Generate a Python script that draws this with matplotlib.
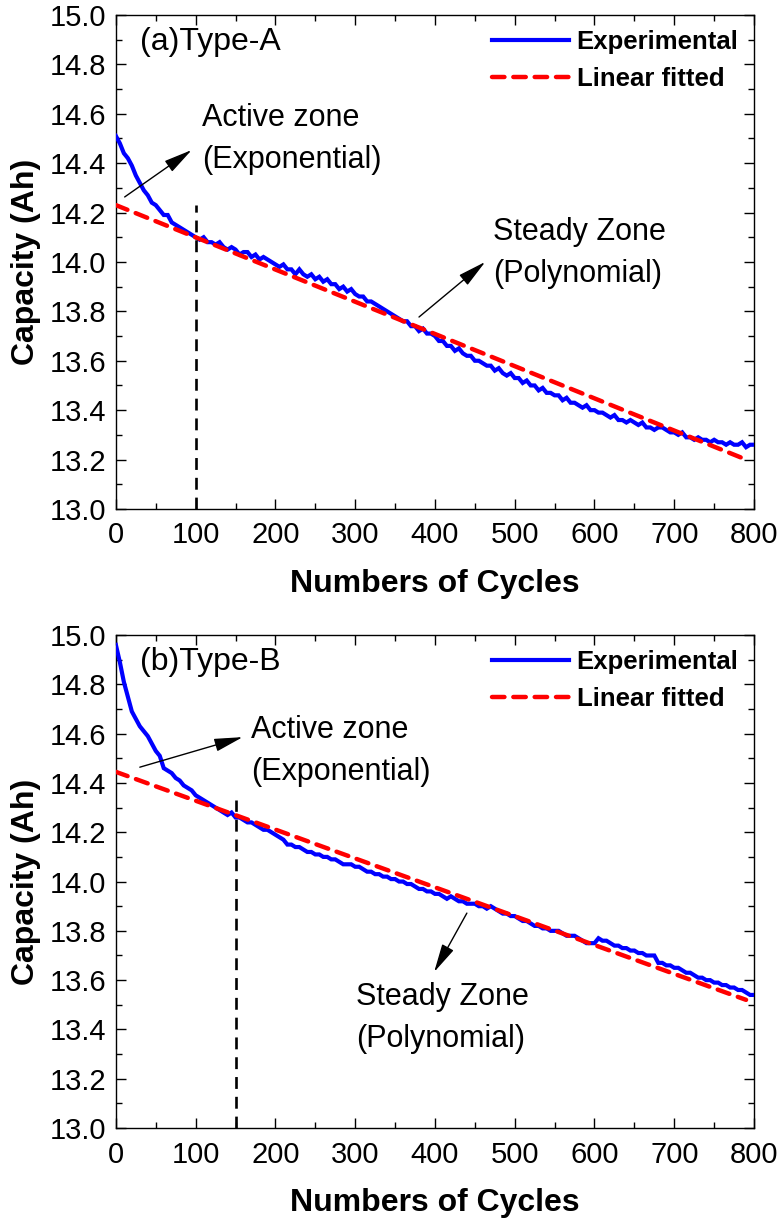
import numpy as np
import matplotlib
matplotlib.use("Agg")
import matplotlib.pyplot as plt
from matplotlib.ticker import MultipleLocator

plt.rcParams['font.family'] = ['Liberation Sans', 'DejaVu Sans']

# ---------------- data ----------------
cycles = np.arange(0, 801, 5)

cap_a = [
    14.51, 14.48, 14.44, 14.42, 14.39, 14.35, 14.32, 14.29, 14.27, 14.24,
    14.23, 14.21, 14.19, 14.19, 14.16, 14.15, 14.14, 14.13, 14.12, 14.11,
    14.10, 14.09, 14.10, 14.08, 14.08, 14.07, 14.08, 14.06, 14.05, 14.06,
    14.05, 14.03, 14.04, 14.04, 14.02, 14.03, 14.01, 14.02, 14.01, 14.00,
    13.99, 13.98, 13.99, 13.97, 13.97, 13.95, 13.97, 13.95, 13.94, 13.95,
    13.93, 13.94, 13.92, 13.93, 13.91, 13.91, 13.89, 13.90, 13.88, 13.89,
    13.87, 13.86, 13.86, 13.84, 13.84, 13.83, 13.82, 13.81, 13.80, 13.79,
    13.78, 13.77, 13.76, 13.76, 13.74, 13.74, 13.72, 13.73, 13.71, 13.71,
    13.70, 13.68, 13.68, 13.66, 13.66, 13.64, 13.65, 13.63, 13.62, 13.62,
    13.60, 13.60, 13.59, 13.58, 13.58, 13.56, 13.57, 13.55, 13.54, 13.55,
    13.53, 13.53, 13.51, 13.52, 13.50, 13.50, 13.48, 13.49, 13.47, 13.47,
    13.46, 13.46, 13.44, 13.45, 13.43, 13.43, 13.42, 13.41, 13.42, 13.40,
    13.40, 13.39, 13.39, 13.38, 13.37, 13.38, 13.36, 13.36, 13.35, 13.36,
    13.35, 13.34, 13.35, 13.33, 13.33, 13.32, 13.33, 13.33, 13.32, 13.31,
    13.31, 13.30, 13.31, 13.29, 13.29, 13.28, 13.29, 13.28, 13.28, 13.27,
    13.28, 13.27, 13.27, 13.26, 13.27, 13.26, 13.26, 13.27, 13.25, 13.26,
    13.26,
]

cap_b = [
    14.96, 14.89, 14.81, 14.75, 14.69, 14.66, 14.63, 14.61, 14.59, 14.56,
    14.53, 14.51, 14.46, 14.45, 14.44, 14.42, 14.41, 14.39, 14.38, 14.37,
    14.35, 14.34, 14.33, 14.32, 14.31, 14.30, 14.29, 14.28, 14.27, 14.28,
    14.26, 14.26, 14.25, 14.24, 14.24, 14.23, 14.22, 14.21, 14.21, 14.20,
    14.19, 14.18, 14.17, 14.15, 14.15, 14.14, 14.14, 14.13, 14.12, 14.12,
    14.11, 14.11, 14.10, 14.10, 14.09, 14.09, 14.08, 14.07, 14.07, 14.07,
    14.06, 14.06, 14.05, 14.04, 14.04, 14.03, 14.03, 14.02, 14.02, 14.01,
    14.01, 14.00, 14.00, 13.99, 13.99, 13.98, 13.97, 13.97, 13.96, 13.96,
    13.95, 13.95, 13.94, 13.93, 13.94, 13.93, 13.92, 13.92, 13.91, 13.91,
    13.91, 13.90, 13.90, 13.89, 13.90, 13.89, 13.88, 13.87, 13.87, 13.86,
    13.86, 13.85, 13.84, 13.84, 13.83, 13.82, 13.82, 13.81, 13.81, 13.80,
    13.80, 13.80, 13.79, 13.78, 13.78, 13.78, 13.77, 13.76, 13.75, 13.75,
    13.75, 13.77, 13.76, 13.76, 13.75, 13.74, 13.74, 13.73, 13.73, 13.72,
    13.72, 13.71, 13.71, 13.70, 13.70, 13.70, 13.67, 13.67, 13.66, 13.66,
    13.65, 13.65, 13.64, 13.63, 13.63, 13.62, 13.61, 13.61, 13.60, 13.60,
    13.59, 13.59, 13.58, 13.58, 13.57, 13.57, 13.56, 13.56, 13.55, 13.54,
    13.54,
]

fit_x = [0, 790]
fit_a = [14.23, 13.20]
fit_b = [14.445, 13.52]

boundary_a = 100
boundary_b = 151
boundary_top_a = 14.23
boundary_top_b = 14.33

panels = [
    dict(cap=cap_a, fit=fit_a, bx=boundary_a, btop=boundary_top_a, title='(a)Type-A',
         active_txt=(108, 14.583), active_tail=(11, 14.263), active_head=(95, 14.453),
         steady_txt=(473, 14.121), steady_tail=(380, 13.777), steady_head=(463, 14.0)),
    dict(cap=cap_b, fit=fit_b, bx=boundary_b, btop=boundary_top_b, title='(b)Type-B',
         active_txt=(170, 14.615), active_tail=(30, 14.464), active_head=(159, 14.586),
         steady_txt=(301, 13.531), steady_tail=(440, 13.872), steady_head=(399, 13.633)),
]

fig = plt.figure(figsize=(7.83, 12.22), dpi=100)
axes = [fig.add_axes([0.148, 0.5835, 0.815, 0.4043]),
        fig.add_axes([0.148, 0.0769, 0.815, 0.4034])]

for ax, p in zip(axes, panels):
    ax.plot(cycles, p['cap'], color='#0000ff', lw=3.0, label='Experimental', zorder=3,
            solid_joinstyle='miter')
    ax.plot(fit_x, p['fit'], color='#ff0000', lw=3.2, ls=(0, (2.8, 2.0)),
            dash_capstyle='round', label='Linear fitted', zorder=4)
    ax.plot([p['bx'], p['bx']], [13.0, p['btop']], color='black', lw=1.9,
            ls=(0, (4.5, 3)), zorder=5)

    ax.set_xlim(0, 800)
    ax.set_ylim(13.0, 15.0)
    ax.xaxis.set_major_locator(MultipleLocator(100))
    ax.xaxis.set_minor_locator(MultipleLocator(50))
    ax.yaxis.set_major_locator(MultipleLocator(0.2))
    ax.yaxis.set_minor_locator(MultipleLocator(0.1))
    ax.yaxis.set_major_formatter(matplotlib.ticker.FormatStrFormatter('%.1f'))
    ax.tick_params(which='both', direction='in', top=True, right=True, width=1.0,
                   labelsize=21)
    ax.tick_params(axis='x', which='major', length=7.5, pad=9)
    ax.tick_params(axis='y', which='major', length=7.5, pad=7)
    ax.tick_params(which='minor', length=4)
    for s in ax.spines.values():
        s.set_linewidth(1.0)

    ax.set_xlabel('Numbers of Cycles', fontsize=23, fontweight='bold', labelpad=14)
    ax.set_ylabel('Capacity (Ah)', fontsize=23, fontweight='bold', labelpad=6)

    ax.text(0.038, 0.945, p['title'], transform=ax.transAxes, fontsize=23,
            va='center', ha='left')

    arrow_style = dict(arrowstyle='-|>,head_length=1.1,head_width=0.25',
                       color='black', lw=1.0, mutation_scale=16, shrinkA=0, shrinkB=0)

    ax.text(p['active_txt'][0], p['active_txt'][1], 'Active zone', fontsize=22,
            va='center', ha='left')
    ax.text(p['active_txt'][0], p['active_txt'][1] - 0.17, '(Exponential)', fontsize=22,
            va='center', ha='left')
    ax.annotate('', xy=p['active_head'], xytext=p['active_tail'], arrowprops=arrow_style)

    ax.text(p['steady_txt'][0], p['steady_txt'][1], 'Steady Zone', fontsize=22,
            va='center', ha='left')
    ax.text(p['steady_txt'][0], p['steady_txt'][1] - 0.17, '(Polynomial)', fontsize=22,
            va='center', ha='left')
    ax.annotate('', xy=p['steady_head'], xytext=p['steady_tail'], arrowprops=arrow_style)

    leg = ax.legend(loc='upper right', bbox_to_anchor=(1.0, 1.0), frameon=False,
                    prop=dict(weight='bold', size=18.5), handlelength=3.0,
                    handletextpad=0.3, labelspacing=0.5, borderaxespad=0.2)

fig.savefig('out.png', dpi=100)
